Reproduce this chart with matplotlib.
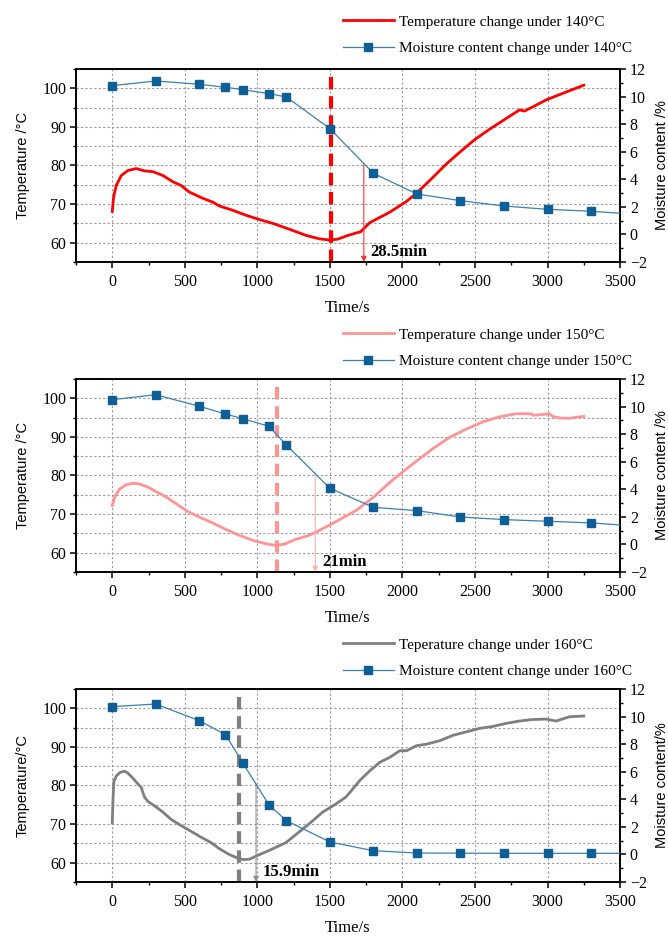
import numpy as np
import matplotlib
matplotlib.use("Agg")
import matplotlib.pyplot as plt
from matplotlib.lines import Line2D
from matplotlib.ticker import MultipleLocator

plt.rcParams['font.family'] = ['Liberation Serif', 'DejaVu Serif']
plt.rcParams['mathtext.fontset'] = 'stix'

# moisture content sampling times (s) and values (%)
moist_t = [0, 300, 600, 780, 900, 1080, 1200, 1500, 1800, 2100, 2400, 2700, 3000, 3300, 3600]
moist_140 = [10.79, 11.13, 10.89, 10.67, 10.50, 10.21, 9.97, 7.67, 4.43, 2.93, 2.45, 2.06, 1.82, 1.68, 1.46]
moist_150 = [10.50, 10.86, 10.02, 9.46, 9.12, 8.57, 7.21, 4.07, 2.69, 2.45, 1.99, 1.80, 1.68, 1.56, 1.34]
moist_t_160 = [0, 300, 600, 780, 900, 1080, 1200, 1500, 1800, 2100, 2400, 2700, 3000, 3300, 3600]
moist_160 = [10.72, 10.91, 9.70, 8.69, 6.63, 3.59, 2.45, 0.90, 0.27, 0.10, 0.09, 0.08, 0.08, 0.08, 0.08]

temp_t_140 = [0, 9, 27, 62, 108, 165, 222, 280, 349, 417, 475, 532, 624, 693, 739, 830, 922,
              1014, 1106, 1220, 1335, 1427, 1495, 1553, 1610, 1679, 1711, 1775, 1913, 2028,
              2099, 2177, 2303, 2394, 2498, 2601, 2716, 2807, 2841, 2899, 2991, 3106, 3250]
temp_140 = [68.1, 71.8, 74.8, 77.4, 78.7, 79.2, 78.6, 78.4, 77.4, 75.8, 74.8, 73.1, 71.5, 70.5,
            69.5, 68.4, 67.1, 66.0, 65.0, 63.5, 61.9, 61.0, 60.7, 60.9, 61.7, 62.5, 62.8, 65.2,
            67.9, 70.7, 72.9, 75.7, 80.4, 83.4, 86.7, 89.4, 92.2, 94.4, 94.1, 95.2, 97.0, 98.7, 100.8]

temp_t_150 = [0, 16, 50, 96, 142, 188, 245, 303, 372, 440, 509, 601, 693, 784, 876, 968, 1060,
              1128, 1186, 1266, 1358, 1427, 1495, 1587, 1683, 1798, 1913, 2000, 2096, 2211,
              2326, 2440, 2555, 2670, 2784, 2853, 2888, 2899, 2968, 3014, 3037, 3083, 3151,
              3197, 3250]
temp_150 = [72.2, 74.4, 76.5, 77.6, 78.0, 77.8, 77.0, 75.8, 74.4, 72.7, 70.9, 69.2, 67.7, 66.0,
            64.5, 63.2, 62.3, 61.9, 62.2, 63.5, 64.5, 65.8, 67.1, 69.0, 71.0, 74.3, 78.2, 80.9,
            83.7, 87.0, 89.9, 92.0, 93.9, 95.2, 96.0, 96.0, 96.0, 95.6, 95.8, 96.0, 95.3, 94.9,
            94.8, 95.1, 95.3]

temp_t_160 = [0, 5, 11, 28, 55, 85, 108, 142, 177, 200, 206, 222, 245, 303, 349, 406, 475, 544,
              612, 681, 739, 807, 876, 911, 945, 1002, 1083, 1197, 1266, 1358, 1450, 1541, 1610,
              1638, 1706, 1775, 1844, 1913, 1982, 2028, 2096, 2165, 2257, 2349, 2440, 2532,
              2624, 2716, 2807, 2899, 2991, 3060, 3151, 3250]
temp_160 = [70.3, 76.5, 81.0, 82.5, 83.4, 83.7, 83.2, 81.9, 80.4, 79.5, 78.7, 77.0, 75.9, 74.4,
            73.1, 71.2, 69.6, 68.1, 66.6, 65.2, 63.6, 62.1, 61.0, 60.8, 60.9, 61.9, 63.2, 65.2,
            67.3, 70.1, 73.1, 75.2, 77.0, 78.2, 81.3, 83.8, 86.0, 87.3, 89.0, 89.0, 90.3, 90.7,
            91.6, 93.0, 93.9, 94.8, 95.3, 96.1, 96.7, 97.1, 97.2, 96.7, 97.8, 98.0]

# dashed marker time, arrow time and label per panel
mark_t = [1507, 1135, 876]
arrow_t = [1734, 1399, 991]
arrow_lbl = ['28.5min', '21min', '15.9min']

temp_lbl = ['Temperature change under 140\u00b0C', 'Temperature change under 150\u00b0C',
            'Teperature change under 160\u00b0C']
moist_lbl = ['Moisture content change under 140\u00b0C', 'Moisture content change under 150\u00b0C',
             'Moisture content change under 160\u00b0C']
ylab_left = ['Temperature /\u00b0C', 'Temperature /\u00b0C', 'Temperature/\u00b0C']
ylab_right = ['Moisture content /%', 'Moisture content /%', 'Moisture content/%']

colors = ['#ff0000', '#ff9494', '#7f7f7f']
arrow_colors = ['#ff3030', '#ffb0b0', '#909090']
marker_c = '#0f5f97'
line_c = '#3a80b2'

temps = [(temp_t_140, temp_140), (temp_t_150, temp_150), (temp_t_160, temp_160)]
moists = [(moist_t, moist_140), (moist_t, moist_150), (moist_t_160, moist_160)]

fig = plt.figure(figsize=(6.68, 9.36), dpi=100)
bottoms = [0.7201, 0.3889, 0.0577]
legend_y = [1.175, 1.16, 1.16]
sans = ['Liberation Sans', 'DejaVu Sans']

for i in range(3):
    ax = fig.add_axes([0.1138, bottoms[i], 0.8144, 0.2062])
    ax2 = ax.twinx()

    ax.set_xlim(-250, 3500)
    ax.set_ylim(55, 105)
    ax2.set_ylim(-2, 12)

    ax.xaxis.set_major_locator(MultipleLocator(500))
    ax.xaxis.set_minor_locator(MultipleLocator(250))
    ax.yaxis.set_major_locator(MultipleLocator(10))
    ax.yaxis.set_minor_locator(MultipleLocator(5))
    ax2.yaxis.set_major_locator(MultipleLocator(2))
    ax2.yaxis.set_minor_locator(MultipleLocator(1))

    ax.grid(True, which='major', axis='x', color='#999999', ls=(0, (2, 2)), lw=0.8)
    ax.grid(True, which='both', axis='y', color='#999999', ls=(0, (2, 2)), lw=0.8)

    for a in (ax, ax2):
        a.tick_params(which='major', direction='out', length=4, width=1.1, labelsize=11.5, pad=3)
        a.tick_params(which='minor', direction='out', length=2.5, width=1.0)
        for s in a.spines.values():
            s.set_linewidth(1.2)
    ax.tick_params(axis='x', pad=5)

    tt, tv = temps[i]
    ax.plot(tt, tv, color=colors[i], lw=2.0, zorder=3)
    ax.axvline(mark_t[i], ymin=0, ymax=0.97, color=colors[i], lw=3, dashes=(3, 1.6), zorder=2)

    mt, mv = moists[i]
    ax2.plot(mt, mv, color=line_c, lw=0.9, marker='s', ms=5.5, mfc=marker_c, mec=marker_c, zorder=4)

    m_at = np.interp(arrow_t[i], mt, mv)
    ax2.annotate('', xy=(arrow_t[i], -2), xytext=(arrow_t[i], m_at),
                 arrowprops=dict(arrowstyle='-|>', color=arrow_colors[i], lw=0.8,
                                 mutation_scale=8, shrinkA=0, shrinkB=0))
    ax2.text(arrow_t[i] + 45, -1.25, arrow_lbl[i], fontsize=12, fontweight='bold', va='center')

    ax.set_xlabel('Time/s', fontsize=12, labelpad=7)
    ax.set_ylabel(ylab_left[i], fontsize=10.5, family=sans, labelpad=9)
    ax2.set_ylabel(ylab_right[i], fontsize=10.5, family=sans, labelpad=6)

    h = [Line2D([], [], color=colors[i], lw=2.0),
         Line2D([], [], color=line_c, lw=0.9, marker='s', ms=5.5, mfc=marker_c, mec=marker_c)]
    ax.legend(h, [temp_lbl[i], moist_lbl[i]], loc='center left', bbox_to_anchor=(0.491, legend_y[i]),
              frameon=False, fontsize=11, handlelength=3.3, handletextpad=0.35,
              labelspacing=0.85, borderpad=0, borderaxespad=0)

fig.savefig('out.png', dpi=100)
